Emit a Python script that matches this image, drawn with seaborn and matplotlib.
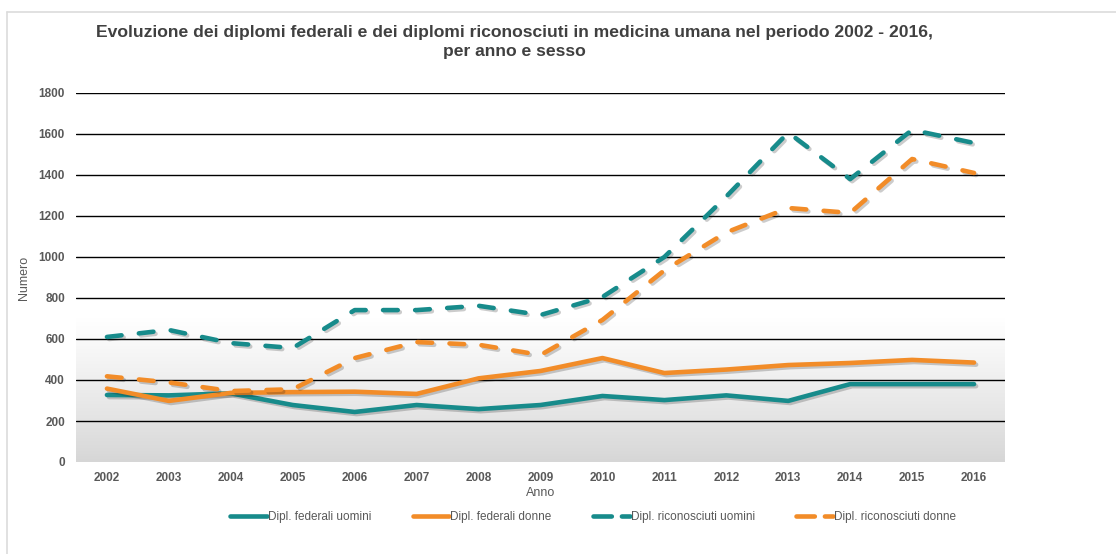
import numpy as np
import pandas as pd
import matplotlib
matplotlib.use('Agg')
import matplotlib.pyplot as plt
import matplotlib.patheffects as pe
from matplotlib.lines import Line2D
import seaborn as sns

# Data
years = list(range(2002, 2017))
fed_uomini = [327, 325, 335, 278, 244, 278, 258, 278, 322, 302, 325, 298, 380, 380, 380]
fed_donne = [358, 298, 337, 341, 343, 332, 408, 444, 507, 434, 451, 473, 483, 498, 485]
ric_uomini = [610, 644, 580, 556, 741, 741, 762, 717, 805, 1000, 1295, 1607, 1380, 1620, 1556]
ric_donne = [418, 388, 346, 355, 507, 585, 572, 522, 693, 935, 1120, 1239, 1215, 1478, 1410]
labels = ['Dipl. federali uomini', 'Dipl. federali donne',
          'Dipl. riconosciuti uomini', 'Dipl. riconosciuti donne']
yticks = list(range(0, 2000, 200))

TEAL = '#178b8b'
ORANGE = '#f28c28'
TEXT = '#595959'
LW = 3.3

sns.set_theme(style='white')
plt.rcParams['font.family'] = ['Liberation Sans', 'DejaVu Sans']

fig = plt.figure(figsize=(11.16, 5.54), dpi=100)
ax = fig.add_axes([76 / 1116, 1 - 462 / 554, (1005 - 76) / 1116, (462 - 93) / 554])

# gradient band in the lower part of the plot area
grad = np.linspace(0, 1, 256).reshape(-1, 1) ** 0.9
cmap = matplotlib.colors.LinearSegmentedColormap.from_list('g', ['#d6d6d6', '#ffffff'])
ax.imshow(grad, cmap=cmap, aspect='auto', origin='lower',
          extent=(2001.5, 2016.5, 0, 700), zorder=0)

shadow = [pe.SimpleLineShadow(offset=(1.5, -1.5), shadow_color='k', alpha=0.22), pe.Normal()]
series = [(fed_uomini, TEAL, False), (fed_donne, ORANGE, False),
          (ric_uomini, TEAL, True), (ric_donne, ORANGE, True)]
for (vals, col, dashed), lab in zip(series, labels):
    sns.lineplot(x=years, y=vals, ax=ax, color=col, linewidth=LW, label=lab,
                 solid_capstyle='round', dash_capstyle='round', zorder=3)
    ln = ax.lines[-1]
    ln.set_path_effects(shadow)
    if dashed:
        ln.set_dashes((3.2, 3.8))

ax.set_xlim(2001.5, 2016.5)
ax.set_ylim(0, 1800)
ax.set_xticks(years)
ax.set_xticklabels([str(y) for y in years])
ax.set_yticks(yticks)
ax.tick_params(axis='both', length=0, labelsize=8.5, labelcolor=TEXT)
ax.tick_params(axis='y', pad=8)
ax.tick_params(axis='x', pad=7)
for t in ax.get_xticklabels() + ax.get_yticklabels():
    t.set_fontweight('bold')
for s in ax.spines.values():
    s.set_visible(False)
ax.set_facecolor('none')
for y in yticks[1:]:
    ax.axhline(y, color='black', linewidth=1.0, zorder=1)

ax.set_ylabel('Numero', fontsize=9, color=TEXT)
ax.yaxis.set_label_coords(-0.049, 0.5)
ax.set_xlabel('Anno', fontsize=9, color=TEXT)
ax.xaxis.set_label_coords(0.5, -0.084)
ax.xaxis.label.set_va('center')

ax.get_legend().remove()
handles = ax.lines[:4]
leg = fig.legend(handles=[Line2D([], [], color=h.get_color(), linewidth=LW,
                                 linestyle=h.get_linestyle(), dashes=(4.0, 2.2) if i > 1 else (None, None),
                                 solid_capstyle='round', dash_capstyle='round')
                          for i, h in enumerate(handles)],
                 labels=labels, loc='center', bbox_to_anchor=(593 / 1116, 1 - 517 / 554),
                 ncol=4, frameon=False, fontsize=8.5, handlelength=3.1,
                 handletextpad=0.1, columnspacing=3.5)
for t in leg.get_texts():
    t.set_color(TEXT)

fig.text(514 / 1116, 1 - 42 / 554,
         'Evoluzione dei diplomi federali e dei diplomi riconosciuti in medicina umana nel periodo 2002 - 2016,\nper anno e sesso',
         ha='center', va='center', fontsize=12.6, fontweight='bold', color='#404040',
         linespacing=1.35)

# light frame around the chart
fig.add_artist(Line2D([7 / 1116, 7 / 1116], [0, 1 - 12 / 554], transform=fig.transFigure,
                      color='#dcdcdc', linewidth=1.2))
fig.add_artist(Line2D([7 / 1116, 1], [1 - 12 / 554, 1 - 12 / 554], transform=fig.transFigure,
                      color='#dcdcdc', linewidth=1.2))

fig.savefig('out.png', dpi=100)
